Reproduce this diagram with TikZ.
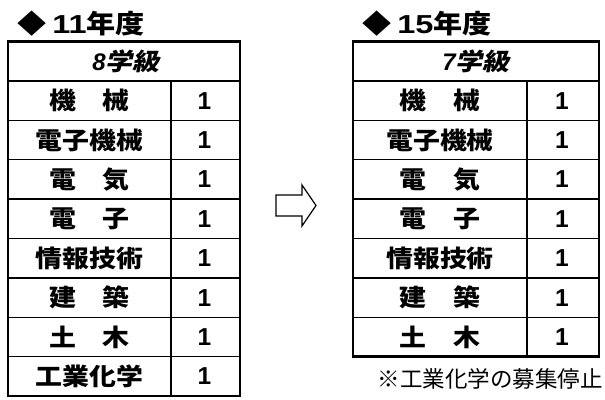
\documentclass[tikz,border=0pt]{standalone}
\usepackage{fontspec}
\newfontfamily\jp{Noto Sans CJK JP}[FakeStretch=1.12]
\newfontfamily\jphead{Noto Sans CJK JP}[FakeStretch=1.12,FakeSlant=0.22]
\newfontfamily\jpnote{Noto Sans CJK JP}
\newfontfamily\num{Liberation Sans}
\newfontfamily\numwide{Liberation Sans}[FakeStretch=1.25]
\tikzset{every scope/.style={line join=miter},
  cell/.style={font=\jp\bfseries\fontsize{24}{24}\selectfont,inner sep=0pt},
  val/.style={font=\num\bfseries\fontsize{24.5}{24.5}\selectfont,inner sep=0pt},
  head/.style={font=\jphead\bfseries\fontsize{24}{24}\selectfont,inner sep=0pt},
  title/.style={font=\jp\bfseries\fontsize{26}{26}\selectfont,inner sep=0pt,anchor=west},
  note/.style={font=\jpnote\fontsize{22.5}{22.5}\selectfont,inner sep=0pt},
  frame/.style={line width=2.6pt},
  rule/.style={line width=1.3pt}}

\begin{document}
\begin{tikzpicture}[x=1pt,y=-1pt]
  \useasboundingbox (0,0) rectangle (605,399);
  \node[title] (T11) at (17,24) {◆\hspace{6pt}{\numwide\bfseries 11}年度};
  \node[title] (T15) at (362,24) {◆\hspace{6pt}{\numwide\bfseries 15}年度};
  % 11 nendo
  \node[head] (L0) at (126,61.2) {{\num\itshape 8}学級};
  \foreach \n/\v [count=\i] in {機　械/1,電子機械/1,電　気/1,電　子/1,情報技術/1,建　築/1,土　木/1,工業化学/1}{
    \draw[rule] (8,{41.5+\i*39.4}) -- (240,{41.5+\i*39.4});
    \node[cell] (L\i) at (89.5,{41.5+(\i+0.5)*39.4}) {\n};
    \node[val] (L\i v) at (204.5,{41.5+(\i+0.5)*39.4}) {\v};
  }
  \draw[rule] (171,80.9) -- (171,396);
  \draw[frame] (8,41.5) rectangle (240,396);
  % 15 nendo
  \node[head] (R0) at (476,61.2) {{\num\itshape 7}学級};
  \foreach \n/\v [count=\i] in {機　械/1,電子機械/1,電　気/1,電　子/1,情報技術/1,建　築/1,土　木/1}{
    \draw[rule] (353,{41.5+\i*39.4}) -- (599,{41.5+\i*39.4});
    \node[cell] (R\i) at (440,{41.5+(\i+0.5)*39.4}) {\n};
    \node[val] (R\i v) at (562,{41.5+(\i+0.5)*39.4}) {\v};
  }
  \draw[rule] (527,80.9) -- (527,356.7);
  \draw[frame] (353,41.5) rectangle (599,356.7);
  % arrow
  \draw[line width=1.2pt] (276,195) -- (302,195) -- (302,185) -- (316,205.5)
    -- (302,226) -- (302,216) -- (276,216) -- cycle;
  \node[note,anchor=east] (N) at (603,379) {※工業化学の募集停止};
\end{tikzpicture}
\end{document}
